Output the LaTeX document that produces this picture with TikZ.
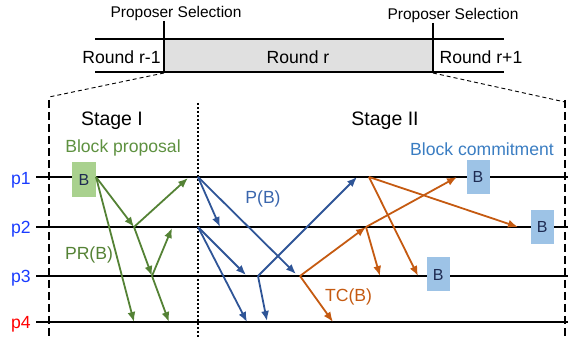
\documentclass[tikz,border=0pt]{standalone}
\usepackage{fontspec}
\setmainfont{Liberation Sans}
\usepackage{tikz}
\usetikzlibrary{arrows.meta}

\definecolor{verde}{HTML}{548235}
\definecolor{verdetesto}{HTML}{5E9140}
\definecolor{verdechiaro}{HTML}{A9D18E}
\definecolor{blu}{HTML}{2F5597}
\definecolor{blutesto}{HTML}{3A66AD}
\definecolor{azzurro}{HTML}{3A7DC2}
\definecolor{bluchiaro}{HTML}{9DC3E6}
\definecolor{arancio}{HTML}{C55A11}
\definecolor{grigio}{HTML}{E0E0E0}
\definecolor{scuro}{HTML}{1E2B52}
\definecolor{pblu}{HTML}{1A3CFF}

\tikzset{
	testo/.style={inner sep=0pt, font=\fontsize{17.6}{20}\selectfont},
	piccolo/.style={inner sep=0pt, font=\fontsize{15.5}{18}\selectfont},
	fase/.style={inner sep=0pt, font=\fontsize{19.5}{22}\selectfont},
	blocco/.style={inner sep=0pt, minimum width=23pt, minimum height=34pt,
		text=scuro, font=\fontsize{16}{18}\selectfont},
	linea/.style={line width=1.9pt},
	msg/.style={->, line width=1.8pt},
}

\begin{document}
\begin{tikzpicture}[x=1pt,y=-1pt,>={Latex[length=10pt,width=8pt]}]
		\useasboundingbox (0,0) rectangle (568,339);
		
		% Barra dei round
		\fill [grigio] (164,39) rectangle (433,72);
		\draw [linea] (95,39) -- (504,39);
		\draw [linea] (95,72) -- (504,72);
		\draw [linea] (164,21) -- (164,72);
		\draw [linea] (433,23) -- (433,72);
		\node [piccolo] (sel1) at (176,13) {Proposer Selection};
		\node [piccolo] (sel2) at (453,15) {Proposer Selection};
		\node [testo] (rprec) at (121.5,57) {Round r-1};
		\node [testo] (ratt) at (298,57) {Round r};
		\node [testo] (rsucc) at (481,57) {Round r+1};
		
		% Ingrandimento
		\draw [line width=0.9pt, dash pattern=on 4pt off 3pt] (164,73) -- (49,97);
		\draw [line width=0.9pt, dash pattern=on 4pt off 3pt] (433,73) -- (565,102);
		\draw [line width=1.6pt, dash pattern=on 8pt off 4pt] (49,100) -- (49,339);
		\draw [line width=1.6pt, dash pattern=on 8pt off 4pt] (565,100) -- (565,339);
		\draw [line width=1.6pt, dash pattern=on 1.6pt off 2.4pt] (198,103) -- (198,339);
		
		% Processi
		\foreach \i/\y in {1/177,2/227,3/276,4/322}
			\draw [linea] (36,\y) -- (568,\y);
		\node [testo, text=pblu] (p1) at (21,180) {p1};
		\node [testo, text=pblu] (p2) at (21,229) {p2};
		\node [testo, text=pblu] (p3) at (21,278) {p3};
		\node [testo, text=red] (p4) at (21,324) {p4};
		
		% Fase I
		\node [fase] (st1) at (112,121) {Stage I};
		\node [testo, text=verdetesto] (prop) at (123,148) {Block proposal};
		\node [blocco, fill=verdechiaro, minimum width=24pt, minimum height=35pt] (B0) at (84,179.5) {B};
		\node [testo, text=verde] (pr) at (89,255) {PR(B)};
		\coordinate (g0) at (96,177);
		\coordinate (g2) at (134,227);
		\coordinate (g3) at (152,276);
		\coordinate (g1t) at (188,178);
		\coordinate (g2t) at (172,228);
		\coordinate (g4a) at (134,322);
		\coordinate (g4b) at (169,322);
		\draw [msg, verde] (g0) -- (g2);
		\draw [msg, verde] (g0) -- (g4a);
		\draw [msg, verde] (g2) -- (g1t);
		\draw [msg, verde] (g2) -- (g3);
		\draw [msg, verde] (g3) -- (g2t);
		\draw [msg, verde] (g3) -- (g4b);
		
		% Fase II: P(B)
		\node [fase] (st2) at (385,121) {Stage II};
		\node [testo, text=blutesto] (pb) at (263,199) {P(B)};
		\coordinate (b1) at (198,177);
		\coordinate (b2) at (198,227);
		\coordinate (b3) at (258,276);
		\coordinate (b2t) at (220,227);
		\coordinate (b3a) at (246,275);
		\coordinate (b3b) at (296,274);
		\coordinate (b4a) at (247,322);
		\coordinate (b4b) at (267,321);
		\coordinate (b1t) at (357,177);
		\draw [msg, blu] (b1) -- (b2t);
		\draw [msg, blu] (b1) -- (b3b);
		\draw [msg, blu] (b2) -- (b3a);
		\draw [msg, blu] (b2) -- (b4a);
		\draw [msg, blu] (b3) -- (b4b);
		\draw [msg, blu] (b3) -- (b1t);
		
		% Fase II: TC(B)
		\node [testo, text=arancio] (tc) at (348.5,297) {TC(B)};
		\coordinate (o3) at (300,276);
		\coordinate (o2) at (366,227);
		\coordinate (o1) at (369,177);
		\coordinate (o4t) at (333,322);
		\coordinate (o3a) at (380,276);
		\coordinate (o3b) at (418,276);
		\coordinate (o1t) at (457,177);
		\coordinate (o2t) at (518,227);
		\draw [msg, arancio] (o3) -- (o4t);
		\draw [msg, arancio] (o3) -- (o2);
		\draw [msg, arancio] (o2) -- (o3a);
		\draw [msg, arancio] (o2) -- (o1t);
		\draw [msg, arancio] (o1) -- (o3b);
		\draw [msg, arancio] (o1) -- (o2t);
		
		% Blocchi confermati
		\node [testo, text=azzurro] (comm) at (482,149) {Block commitment};
		\node [blocco, fill=bluchiaro] (B1) at (478,177.2) {B};
		\node [blocco, fill=bluchiaro] (B2) at (542.3,227.2) {B};
		\node [blocco, fill=bluchiaro] (B3) at (438.3,274.5) {B};
	\end{tikzpicture}
\end{document}
